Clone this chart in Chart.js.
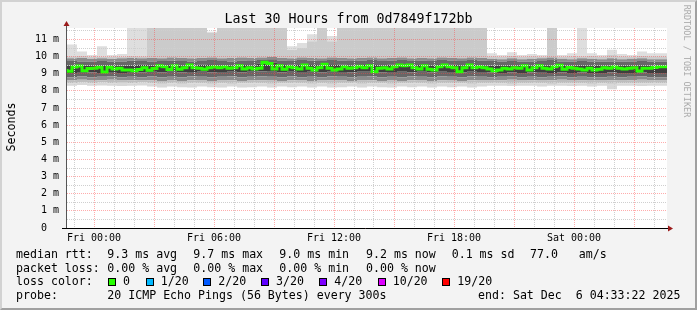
<!DOCTYPE html>
<html>
<head>
<meta charset="utf-8">
<script src="https://cdn.jsdelivr.net/npm/chart.js@4.4.1/dist/chart.umd.min.js"></script>
<style>
  html, body { margin: 0; padding: 0; background: #f3f3f3; }
  #frame { position: relative; width: 697px; height: 310px; background: #f3f3f3; overflow: hidden;
           font-family: "DejaVu Sans Mono", monospace; color: #000; }
  #frame canvas { position: absolute; left: 0; top: 0; }
  #edge { position: absolute; left: 0; top: 0; width: 697px; height: 310px; box-sizing: border-box;
          border-top: 2px solid #d2d2d2; border-left: 2px solid #d2d2d2;
          border-right: 2px solid #a0a0a0; border-bottom: 2px solid #a0a0a0; pointer-events: none; }
  .t { position: absolute; white-space: pre; font-size: 11.6px; line-height: 14px; }
  #title { position: absolute; left: 0; top: 11px; width: 697px; text-align: center;
           font-size: 13.3px; line-height: 16px; white-space: pre; }
  #ylabel { position: absolute; left: -39px; top: 120px; width: 100px; text-align: center;
            font-size: 11.6px; line-height: 14px; transform: rotate(-90deg); }
  #mark { position: absolute; left: 627px; top: 56px; width: 120px; height: 10px; text-align: center;
          font-size: 8.5px; line-height: 10px; color: #aaa; transform: rotate(90deg); white-space: pre; }
  .box { position: absolute; top: 278px; width: 6px; height: 6px; border: 1px solid #000; }
</style>
</head>
<body>
<div id="frame">
  <canvas id="grafico" width="697" height="310"></canvas>
  <div id="title">Last 30 Hours from 0d7849f172bb</div>
  <div id="ylabel">Seconds</div>
  <div id="mark">RRDTOOL / TOBI OETIKER</div>
  <div id="legenda"></div>
  <div id="edge"></div>
</div>
<script>
// Tempo em horas relativo a Fri 00:00
const T_START = -1.35
const T_END = 28.65
const BAND_STEP = 0.5     // faixas de fumaça: 30 min
const MEDIAN_STEP = 0.25  // mediana: 15 min

const X_TICKS = [-1, 0, 1, 2, 3, 4, 5, 6, 7, 8, 9, 10, 11, 12, 13, 14, 15, 16, 17, 18, 19, 20, 21, 22, 23, 24, 25, 26, 27, 28]
const X_LABELS = { 0: "Fri 00:00", 6: "Fri 06:00", 12: "Fri 12:00", 18: "Fri 18:00", 24: "Sat 00:00" }
const Y_TICKS = [0, 0.5, 1, 1.5, 2, 2.5, 3, 3.5, 4, 4.5, 5, 5.5, 6, 6.5, 7, 7.5, 8, 8.5, 9, 9.5, 10, 10.5, 11, 11.5]
const Y_MAX = 11.67

// RTT em ms (percentis dos 20 pings, cada 30 min)
const pMax = [10.1, 10.7, 10.3, 10.1, 10.6, 10.1, 10.15, 11.7, 11.7, 11.7,
  11.7, 11.7, 11.7, 11.7, 11.7, 11.45, 11.7, 11.7, 11.7, 11.7,
  11.7, 11.7, 11.7, 10.6, 10.8, 11.3, 11.7, 11.2, 11.7, 11.7,
  11.7, 11.7, 11.7, 11.7, 11.7, 11.7, 11.7, 11.7, 11.7, 11.7,
  11.7, 11.7, 11.7, 10.2, 10.1, 10.25, 10.1, 10.15, 10.1, 11.7,
  10.1, 10.2, 11.7, 10.2, 10.1, 10.4, 10.15, 10.1, 10.3, 10.2]
const p95 = [9.98, 10.02, 10.05, 9.98, 10.0, 9.98, 10.0, 10.05, 10.02, 11.7,
  11.7, 11.7, 11.7, 11.7, 11.7, 11.4, 11.7, 11.7, 11.7, 11.7,
  11.7, 11.7, 11.7, 10.4, 10.5, 10.9, 11.7, 10.9, 11.7, 11.7,
  11.7, 11.7, 11.7, 11.7, 11.7, 11.7, 11.7, 11.7, 11.7, 11.7,
  11.7, 11.7, 11.7, 10.02, 9.98, 10.05, 9.98, 10.02, 9.98, 11.7,
  9.98, 10.02, 10.02, 10.05, 9.98, 10.1, 10.02, 9.98, 10.05, 10.02]
const p90 = [9.88, 9.9, 9.92, 9.88, 9.9, 9.88, 9.9, 9.92, 9.9, 9.92,
  9.9, 9.95, 9.92, 9.9, 9.92, 9.95, 9.9, 9.92, 9.95, 9.92,
  9.95, 9.98, 9.92, 9.9, 9.95, 9.92, 9.9, 9.95, 9.92, 9.9,
  9.92, 9.95, 9.9, 9.92, 9.95, 9.9, 9.92, 9.9, 9.95, 9.92,
  9.9, 9.95, 9.92, 9.88, 9.85, 9.9, 9.85, 9.88, 9.9, 9.95,
  9.88, 9.85, 9.9, 9.88, 9.85, 9.9, 9.85, 9.88, 9.9, 9.85]
const p80 = [9.7, 9.75, 9.72, 9.7, 9.75, 9.7, 9.72, 9.78, 9.75, 9.72,
  9.75, 9.78, 9.75, 9.72, 9.75, 9.8, 9.75, 9.72, 9.78, 9.75,
  9.8, 9.85, 9.78, 9.75, 9.8, 9.78, 9.75, 9.8, 9.78, 9.75,
  9.78, 9.8, 9.75, 9.78, 9.8, 9.75, 9.78, 9.75, 9.8, 9.78,
  9.75, 9.8, 9.78, 9.75, 9.72, 9.75, 9.7, 9.72, 9.75, 9.8,
  9.72, 9.7, 9.75, 9.72, 9.7, 9.72, 9.7, 9.72, 9.75, 9.7]
const p60 = [9.45, 9.5, 9.48, 9.45, 9.5, 9.45, 9.48, 9.5, 9.52, 9.5,
  9.5, 9.55, 9.5, 9.48, 9.52, 9.55, 9.5, 9.5, 9.55, 9.5,
  9.6, 9.65, 9.55, 9.52, 9.55, 9.55, 9.5, 9.55, 9.52, 9.5,
  9.55, 9.55, 9.5, 9.52, 9.55, 9.5, 9.55, 9.5, 9.55, 9.52,
  9.5, 9.55, 9.5, 9.48, 9.45, 9.5, 9.45, 9.45, 9.5, 9.5,
  9.45, 9.45, 9.5, 9.45, 9.45, 9.48, 9.45, 9.45, 9.5, 9.48]
const p40 = [9.1, 9.05, 9.1, 9.08, 9.05, 9.1, 9.05, 9.1, 9.08, 9.12,
  9.08, 9.12, 9.08, 9.1, 9.12, 9.08, 9.1, 9.12, 9.08, 9.12,
  9.15, 9.12, 9.08, 9.12, 9.1, 9.12, 9.08, 9.12, 9.1, 9.08,
  9.12, 9.12, 9.08, 9.1, 9.12, 9.08, 9.12, 9.08, 9.12, 9.1,
  9.08, 9.12, 9.1, 9.08, 9.05, 9.08, 9.05, 9.08, 9.1, 9.05,
  9.08, 9.05, 9.08, 9.05, 9.05, 9.08, 9.05, 9.05, 9.08, 9.05]
const p20 = [8.85, 8.8, 8.85, 8.8, 8.82, 8.85, 8.8, 8.82, 8.8, 8.85,
  8.8, 8.82, 8.8, 8.85, 8.82, 8.8, 8.82, 8.85, 8.8, 8.82,
  8.85, 8.82, 8.8, 8.85, 8.8, 8.82, 8.8, 8.85, 8.82, 8.8,
  8.82, 8.85, 8.8, 8.82, 8.8, 8.85, 8.82, 8.8, 8.85, 8.82,
  8.8, 8.85, 8.82, 8.8, 8.82, 8.85, 8.8, 8.82, 8.8, 8.82,
  8.85, 8.8, 8.82, 8.8, 8.8, 8.82, 8.8, 8.82, 8.85, 8.8]
const p10 = [8.65, 8.6, 8.65, 8.6, 8.62, 8.65, 8.6, 8.62, 8.6, 8.62,
  8.58, 8.6, 8.58, 8.62, 8.6, 8.58, 8.6, 8.62, 8.58, 8.6,
  8.62, 8.6, 8.58, 8.62, 8.6, 8.58, 8.6, 8.62, 8.6, 8.58,
  8.6, 8.62, 8.58, 8.6, 8.58, 8.62, 8.6, 8.58, 8.62, 8.6,
  8.58, 8.62, 8.6, 8.6, 8.62, 8.65, 8.6, 8.62, 8.6, 8.62,
  8.65, 8.6, 8.62, 8.6, 8.6, 8.62, 8.6, 8.62, 8.65, 8.6]
const p5 = [8.5, 8.45, 8.5, 8.45, 8.5, 8.45, 8.48, 8.45, 8.5, 8.45,
  8.42, 8.45, 8.42, 8.45, 8.44, 8.42, 8.45, 8.42, 8.45, 8.44,
  8.45, 8.42, 8.45, 8.44, 8.45, 8.42, 8.45, 8.42, 8.45, 8.44,
  8.42, 8.45, 8.44, 8.42, 8.45, 8.44, 8.45, 8.42, 8.45, 8.44,
  8.45, 8.42, 8.45, 8.44, 8.45, 8.42, 8.45, 8.44, 8.45, 8.42,
  8.45, 8.44, 8.45, 8.42, 8.45, 8.42, 8.45, 8.45, 8.44, 8.45]
const pMin = [8.35, 8.3, 8.35, 8.3, 8.32, 8.3, 8.28, 8.3, 8.32, 8.25,
  8.2, 8.25, 8.22, 8.2, 8.25, 8.22, 8.2, 8.25, 8.2, 8.22,
  8.25, 8.2, 8.25, 8.22, 8.25, 8.2, 8.25, 8.2, 8.22, 8.25,
  8.2, 8.25, 8.22, 8.2, 8.25, 8.22, 8.25, 8.2, 8.25, 8.22,
  8.25, 8.2, 8.25, 8.3, 8.3, 8.28, 8.3, 8.3, 8.25, 8.3,
  8.3, 8.28, 8.3, 8.25, 8.3, 8.1, 8.3, 8.3, 8.28, 8.3]

// Mediana em ms (cada 15 min)
const median = [9.28, 9.15, 9.4, 9.45, 9.18, 9.3, 9.32, 9.38, 9.1, 9.38,
  9.28, 9.32, 9.22, 9.22, 9.18, 9.25, 9.35, 9.2, 9.3, 9.47,
  9.41, 9.25, 9.47, 9.26, 9.35, 9.51, 9.35, 9.32, 9.26, 9.35,
  9.41, 9.35, 9.41, 9.32, 9.35, 9.47, 9.28, 9.35, 9.28, 9.32,
  9.67, 9.6, 9.28, 9.47, 9.26, 9.41, 9.35, 9.28, 9.51, 9.32,
  9.22, 9.35, 9.55, 9.32, 9.22, 9.28, 9.41, 9.32, 9.35, 9.44,
  9.35, 9.47, 9.12, 9.32, 9.35, 9.28, 9.41, 9.51, 9.47, 9.51,
  9.35, 9.28, 9.47, 9.26, 9.22, 9.41, 9.51, 9.41, 9.35, 9.12,
  9.35, 9.51, 9.35, 9.41, 9.35, 9.28, 9.18, 9.22, 9.32, 9.28,
  9.35, 9.32, 9.47, 9.22, 9.35, 9.47, 9.32, 9.28, 9.41, 9.5,
  9.26, 9.37, 9.32, 9.28, 9.22, 9.32, 9.22, 9.26, 9.35, 9.32,
  9.41, 9.32, 9.28, 9.32, 9.35, 9.16, 9.32, 9.32, 9.37, 9.41]

// Legenda
const legendaLinhas = [
  { top: 247, itens: [[16, "median rtt:"], [107.3, "9.3 ms avg"], [193.3, "9.7 ms max"], [279.3, "9.0 ms min"], [366, "9.2 ms now"], [451.7, "0.1 ms sd"], [530, "77.0   am/s"]] },
  { top: 260.7, itens: [[16, "packet loss:"], [107.3, "0.00 % avg"], [193.3, "0.00 % max"], [279.3, "0.00 % min"], [366, "0.00 % now"]] },
  { top: 274.4, itens: [[16, "loss color:"]] },
  { top: 288.1, itens: [[16, "probe:"], [107.3, "20 ICMP Echo Pings (56 Bytes) every 300s"], [478, "end: Sat Dec  6 04:33:22 2025"]] }
]
const lossLabels = ["0", "1/20", "2/20", "3/20", "4/20", "10/20", "19/20"]
const lossColors = ["#26ff00", "#00b8ff", "#0059ff", "#5e00ff", "#7e00ff", "#dd00ff", "#ff0000"]
const lossBoxX = [108, 145.7, 203.3, 261, 319.3, 377.7, 442.3]

const legenda = document.getElementById("legenda")
legendaLinhas.forEach(linha => {
  linha.itens.forEach(([x, txt]) => {
    const d = document.createElement("div")
    d.className = "t"
    d.style.left = x + "px"
    d.style.top = linha.top + "px"
    d.textContent = txt
    legenda.appendChild(d)
  })
})
lossLabels.forEach((lbl, i) => {
  const b = document.createElement("div")
  b.className = "box"
  b.style.left = lossBoxX[i] + "px"
  b.style.background = lossColors[i]
  legenda.appendChild(b)
  const d = document.createElement("div")
  d.className = "t"
  d.style.left = (lossBoxX[i] + 15) + "px"
  d.style.top = "274.4px"
  d.textContent = lbl
  legenda.appendChild(d)
})

// Monta pontos em degraus (valor vale até o próximo ponto)
function degraus(valores, passo) {
  const pts = valores.map((v, i) => ({ x: T_START + i * passo, y: v }))
  pts.push({ x: T_END, y: valores[valores.length - 1] })
  return pts
}

const faixas = [pMin, p5, p10, p20, p40, p60, p80, p90, p95, pMax]
const coresFaixa = [null, "#d8d8d8", "#bdbdbd", "#8c8c8c", "#676767", "#3f3f3f", "#676767", "#8c8c8c", "#cbcbcb", "#dedede"]

const datasets = faixas.map((serie, i) => ({
  data: degraus(serie, BAND_STEP),
  borderColor: "transparent",
  borderWidth: 0,
  backgroundColor: coresFaixa[i] || "transparent",
  fill: i === 0 ? false : "-1",
  pointRadius: 0,
  stepped: "after"
}))
datasets.push({
  data: degraus(median, MEDIAN_STEP),
  borderColor: "#26ff00",
  borderWidth: 3,
  fill: false,
  pointRadius: 0,
  stepped: "after",
  order: -1
})

const moldura = {
  id: "moldura",
  beforeDraw(chart) {
    const { ctx, chartArea: a } = chart
    ctx.save()
    ctx.fillStyle = "#ffffff"
    ctx.fillRect(a.left, a.top, a.right - a.left, a.bottom - a.top)
    ctx.restore()
  },
  afterDraw(chart) {
    const { ctx, chartArea: a } = chart
    ctx.save()
    ctx.lineWidth = 1
    ctx.strokeStyle = "#555555"
    ctx.beginPath()
    ctx.moveTo(a.left - 0.5, a.bottom)
    ctx.lineTo(a.left - 0.5, a.top - 4)
    ctx.stroke()
    ctx.strokeStyle = "#000000"
    ctx.beginPath()
    ctx.moveTo(a.left - 5, a.bottom + 0.5)
    ctx.lineTo(a.right + 2, a.bottom + 0.5)
    ctx.stroke()
    ctx.fillStyle = "#9b1b1b"
    ctx.beginPath()
    ctx.moveTo(a.left - 3.5, a.top - 2)
    ctx.lineTo(a.left + 2.5, a.top - 2)
    ctx.lineTo(a.left - 0.5, a.top - 7)
    ctx.closePath()
    ctx.fill()
    ctx.beginPath()
    ctx.moveTo(a.right + 1, a.bottom - 2.5)
    ctx.lineTo(a.right + 1, a.bottom + 3.5)
    ctx.lineTo(a.right + 6, a.bottom + 0.5)
    ctx.closePath()
    ctx.fill()
    ctx.restore()
  }
}

const fonteEixo = { family: "DejaVu Sans Mono", size: 10 }
const pontilhado = [1, 1]

new Chart(document.getElementById("grafico").getContext("2d"), {
  type: "line",
  data: { datasets },
  options: {
    responsive: false,
    animation: false,
    devicePixelRatio: 1,
    layout: { padding: { top: 28, right: 30, left: 0, bottom: 0 } },
    plugins: { legend: { display: false }, tooltip: { enabled: false }, filler: { propagate: false } },
    scales: {
      x: {
        type: "linear",
        min: T_START,
        max: T_END,
        afterFit: s => { s.height = 82 },
        afterBuildTicks: s => { s.ticks = X_TICKS.map(v => ({ value: v })) },
        ticks: {
          autoSkip: false, maxRotation: 0, padding: 4, color: "#000", font: fonteEixo,
          callback: v => X_LABELS[v] || ""
        },
        grid: {
          z: 1, drawTicks: false, lineWidth: 1, borderDash: pontilhado,
          color: c => (c.tick && c.tick.value % 3 === 0) ? "rgba(255,70,70,0.45)" : "#cfcfcf"
        },
        border: { display: false, dash: pontilhado }
      },
      y: {
        type: "linear",
        min: 0,
        max: Y_MAX,
        afterFit: s => { s.width = 67 },
        afterBuildTicks: s => { s.ticks = Y_TICKS.map(v => ({ value: v })) },
        ticks: {
          autoSkip: false, padding: 8, color: "#000", font: fonteEixo,
          callback: v => Number.isInteger(v) ? (v === 0 ? "0  " : v + " m") : ""
        },
        grid: {
          z: 1, drawTicks: false, lineWidth: 1, borderDash: pontilhado,
          color: c => (c.tick && Number.isInteger(c.tick.value)) ? "rgba(255,70,70,0.45)" : "#cfcfcf"
        },
        border: { display: false, dash: pontilhado }
      }
    }
  },
  plugins: [moldura]
})
</script>
</body>
</html>
